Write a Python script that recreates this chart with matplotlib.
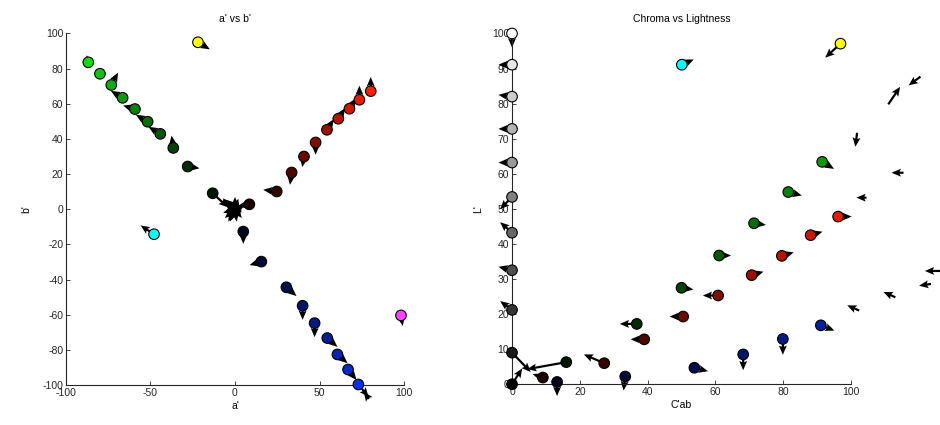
import matplotlib
matplotlib.use('Agg')
import matplotlib.pyplot as plt

plt.rcParams['font.family'] = ['Liberation Sans', 'DejaVu Sans']
plt.rcParams['axes.unicode_minus'] = False

# ramp levels (RGB steps)
levels = [0.1, 0.2, 0.3, 0.4, 0.5, 0.6, 0.7, 0.8, 0.9, 1.0]
gray_levels = [0.0] + levels

# ---- a' vs b' ----
gray_a = [0, 0, 0, 0, 0, 0, 0, 0, 0, 0, 0]
gray_b = [0, 0, 0, 0, 0, 0, 0, 0, 0, 0, 0]
red_a = [8.5, 24.7, 33.5, 40.8, 47.7, 54.4, 61.1, 67.7, 73.6, 80.3]
red_b = [2.8, 10.1, 20.9, 30.0, 38.0, 45.2, 51.5, 57.2, 62.3, 67.2]
green_a = [-13.2, -28.0, -36.5, -44.2, -51.7, -59.2, -66.5, -73.2, -79.9, -86.8]
green_b = [9.1, 24.3, 34.9, 42.9, 49.8, 57.0, 63.4, 70.7, 77.1, 83.6]
blue_a = [4.9, 15.6, 30.4, 40.0, 47.1, 54.6, 60.6, 66.9, 73.0, 79.2]
blue_b = [-12.7, -29.8, -44.4, -54.9, -64.8, -73.3, -82.6, -91.2, -99.7, -107.9]
sec_a = [-47.9, -21.9, 98.2]   # cyan, yellow, magenta
sec_b = [-14.2, 95.0, -60.4]

# shift vectors in a'b'
gray_du = [-5, -7, -6, 2, -3, 5, -7, 1, -4, 4, 0]
gray_dv = [3, 6, -5, 6, -7, 1, -2, -7, -7, -5, 7]
red_du = [-7, -8, -1, -1, 0, 4, 4, 4, 0, 0]
red_dv = [-1, 1, -7, -6, -7, 6, 6, 6, 8, 8]
green_du = [9, 7, -1, -7, -7, -7, -7, 4, -2, -1]
green_dv = [-8, -1, 7, 4, 4, 2, 4, 7, 2, 4]
blue_du = [0, -7, 6, 0, 0, 6, 6, 5, 6, -3]
blue_dv = [-7, -2, -5, -8, -8, -5, -5, -6, -7, 4]
sec_du = [-8, 7, 1]
sec_dv = [5, -4, -6]

# ---- Chroma vs Lightness ----
gray_C = [0, 0, 0, 0, 0, 0, 0, 0, 0, 0, 0]
gray_L = [0, 9.0, 21.2, 32.5, 43.2, 53.4, 63.2, 72.8, 82.0, 91.1, 100]
red_C = [9.1, 27.2, 39.0, 50.5, 60.8, 70.7, 79.6, 88.1, 96.2, 104.6]
red_L = [1.9, 6.0, 12.8, 19.3, 25.3, 31.1, 36.6, 42.5, 47.8, 53.2]
green_C = [16.0, 36.8, 50.0, 61.1, 71.4, 81.5, 91.5, 101.8, 111.0, 120.5]
green_L = [6.3, 17.2, 27.5, 36.7, 45.9, 54.8, 63.4, 71.7, 79.8, 87.7]
blue_C = [13.3, 33.4, 53.8, 68.2, 79.9, 91.1, 102.4, 113.1, 123.6, 133.8]
blue_L = [0.65, 2.2, 4.7, 8.5, 12.9, 16.8, 21.0, 24.8, 28.6, 32.3]
sec_C = [50.1, 96.9, 115.5]
sec_L = [91.1, 97.1, 60.3]

gray_dC = [3, 5.5, -3.5, -4, -3.5, -3.5, -4, -4, -4, -4, 0]
gray_dL = [4.5, -5.5, 2.5, 1, 3, -3.5, 0, 0, 0.5, 0, -4]
red_dC = [-3, -6, -4, -4, -4.5, 3.5, 3.5, 3.5, 4, -3]
red_dL = [1, 2.5, 0, 0, 0, 1, 1, 1, 0, 0]
green_dC = [-11.5, -5, 3.5, 3.5, 3.5, 4, 3.5, -0.5, 3.5, -3.5]
green_dL = [-2, 0, -0.5, 0, -0.5, -1, -2, -4, 5, -2.5]
blue_dC = [0, -0.5, 4, 0, 0, 4, -3.5, -3.5, -3.5, -12]
blue_dL = [-4, -4, -1, -4.5, -4.5, -1.5, 1.5, 1.5, -0.5, 0]
sec_dC = [3.5, -4.5, -3.5]
sec_dL = [1.5, -4, 0]

gray_cols = [(t, t, t) for t in gray_levels]
red_cols = [(t, 0.12 * t, 0) for t in levels]
green_cols = [(0.08 * t, 0.85 * t, 0.08 * t) for t in levels]
blue_cols = [(0.05 * t, 0.2 * t, t) for t in levels]
sec_cols = ['#00ffff', '#ffff00', '#ff44ff']

fig = plt.figure(figsize=(9.4, 4.25), dpi=100)
ax1 = fig.add_axes([0.0702, 0.0941, 0.3596, 0.8271])
ax2 = fig.add_axes([0.5447, 0.0959, 0.3606, 0.8253])

qkw = dict(angles='xy', scale_units='xy', scale=1, color='k', width=0.0065,
           headwidth=3.6, headlength=4.2, headaxislength=3.6, minshaft=0.5,
           zorder=2, clip_on=False)
skw = dict(s=58, edgecolors='k', linewidths=0.8, clip_on=False)


def draw(ax, xs, ys, us, vs, cols, lim, marker_z=3, width=0.0065):
    ax.quiver(xs, ys, us, vs, **{**qkw, 'width': width})
    # markers whose centre lies outside the limits are hidden, the rest are not cut
    keep = [i for i in range(len(xs))
            if lim[0] <= xs[i] <= lim[1] and lim[2] <= ys[i] <= lim[3]]
    ax.scatter([xs[i] for i in keep], [ys[i] for i in keep],
               c=[cols[i] for i in keep], zorder=marker_z, **skw)


lim1 = (-100, 100, -100, 100)
lim2 = (0, 100, 0, 100)
draw(ax1, gray_a, gray_b, gray_du, gray_dv, gray_cols, lim1, marker_z=1, width=0.011)
draw(ax1, red_a, red_b, red_du, red_dv, red_cols, lim1)
draw(ax1, green_a, green_b, green_du, green_dv, green_cols, lim1)
draw(ax1, blue_a, blue_b, blue_du, blue_dv, blue_cols, lim1)
draw(ax1, sec_a, sec_b, sec_du, sec_dv, sec_cols, lim1)

draw(ax2, gray_C, gray_L, gray_dC, gray_dL, gray_cols, lim2)
draw(ax2, red_C, red_L, red_dC, red_dL, red_cols, lim2)
draw(ax2, green_C, green_L, green_dC, green_dL, green_cols, lim2)
draw(ax2, blue_C, blue_L, blue_dC, blue_dL, blue_cols, lim2)
draw(ax2, sec_C, sec_L, sec_dC, sec_dL, sec_cols, lim2)

ax1.set_xlim(-100, 100)
ax1.set_ylim(-100, 100)
ax1.set_xticks([-100, -50, 0, 50, 100])
ax1.set_yticks(range(-100, 101, 20))
ax1.set_title("a' vs b'", fontsize=7.5, pad=8)
ax1.set_xlabel("a'", fontsize=7.5, labelpad=2)
ax1.set_ylabel("b'", fontsize=7.5, labelpad=8)

ax2.set_xlim(0, 100)
ax2.set_ylim(0, 100)
ax2.set_xticks(range(0, 101, 20))
ax2.set_yticks(range(0, 101, 10))
ax2.set_title('Chroma vs Lightness', fontsize=7.5, pad=8)
ax2.set_xlabel("C'ab", fontsize=7.5, labelpad=2)
ax2.set_ylabel("L'", fontsize=7.5, labelpad=6)

for ax in (ax1, ax2):
    for side in ('top', 'right'):
        ax.spines[side].set_visible(False)
    for side in ('left', 'bottom'):
        ax.spines[side].set_color('#262626')
        ax.spines[side].set_linewidth(0.8)
    ax.tick_params(direction='in', length=3, width=0.6, labelsize=7.5,
                   colors='#262626', pad=2)
    ax.set_facecolor('white')

fig.savefig('out.png', dpi=100)
